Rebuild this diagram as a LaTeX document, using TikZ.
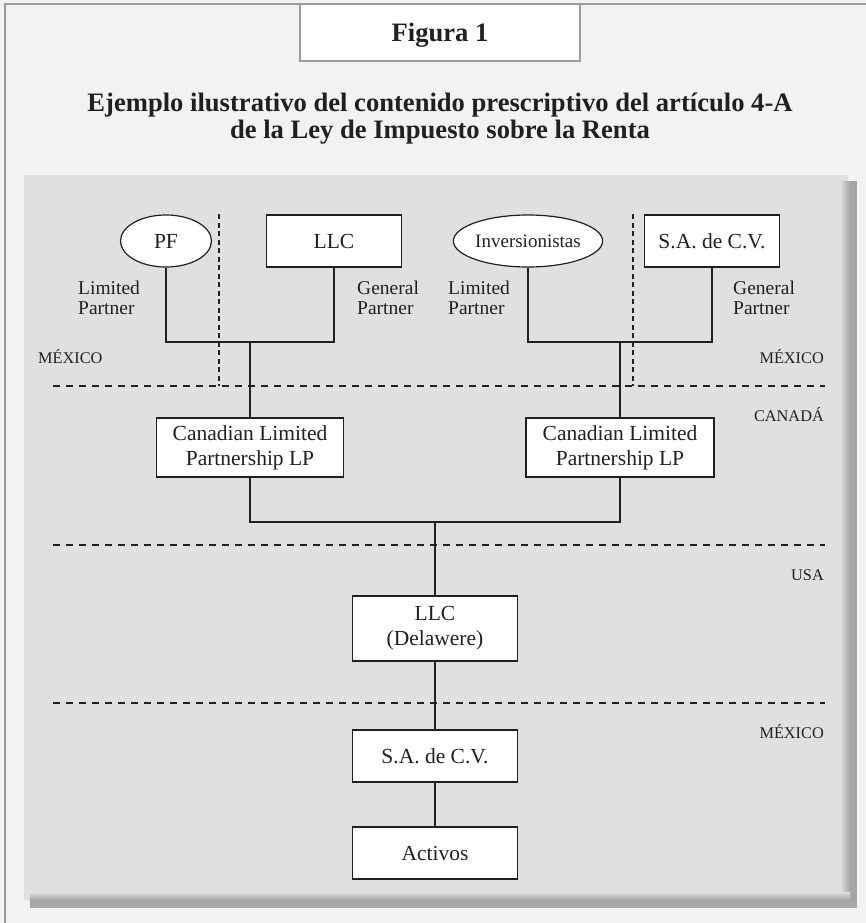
\documentclass[tikz,border=0pt]{standalone}
\usepackage{fontspec}
\setmainfont{Liberation Serif}
\usetikzlibrary{shapes.geometric}
\definecolor{bgout}{HTML}{F1F2F4}
\definecolor{panelc}{HTML}{DFE0E2}
\definecolor{framec}{HTML}{9B9B9B}
\definecolor{inkc}{HTML}{231F20}
\definecolor{shadowc}{HTML}{A6A6A8}
\begin{document}
\begin{tikzpicture}[x=1pt,y=-1pt,
  box/.style={draw=inkc, line width=1.2pt, fill=white, rectangle, inner sep=0pt, text=inkc, font=\fontsize{21.5}{25}\selectfont, align=center},
  oval/.style={draw=inkc, line width=1.2pt, fill=white, ellipse, inner sep=0pt, text=inkc},
  conn/.style={draw=inkc, line width=1.4pt},
  hdash/.style={draw=inkc, line width=1.1pt, dash pattern=on 7pt off 6pt},
  vdash/.style={draw=inkc, line width=1.1pt, dash pattern=on 5pt off 3.5pt},
  lbl/.style={text=inkc, font=\fontsize{19.5}{20}\selectfont, inner sep=0pt},
  country/.style={text=inkc, font=\fontsize{16.3}{18}\selectfont, inner sep=0pt},
  ttl/.style={text=inkc, font=\fontsize{26.6}{27}\selectfont\bfseries, inner sep=0pt}
]
\useasboundingbox (0,0) rectangle (866,923);
\fill[bgout] (0,0) rectangle (866,923);
\draw[framec, line width=1.5pt] (5,923) -- (5,4) -- (866,4);
% figure label
\node[draw=framec, line width=1.2pt, fill=white, minimum width=280pt, minimum height=57pt, inner sep=0pt,
      text height=19pt, text depth=0pt, text=inkc, font=\fontsize{26.6}{27}\selectfont\bfseries] (fig) at (440,32.5) {Figura 1};
\node[ttl, anchor=base] (t1) at (440,112) {Ejemplo ilustrativo del contenido prescriptivo del artículo 4-A};
\node[ttl, anchor=base] (t2) at (440,139) {de la Ley de Impuesto sobre la Renta};
% panel with shadow
\fill[panelc] (24,175) rectangle (848,900);
\shade[left color=panelc, right color=shadowc] (840,181) rectangle (850,900);
\fill[shadowc] (850,181) rectangle (857,908);
\shade[top color=panelc, bottom color=shadowc] (30,892) rectangle (850,900);
\fill[shadowc] (30,900) rectangle (857,908);
% dashed borders
\coordinate (dl1) at (53,386); \coordinate (dr1) at (825,386);
\coordinate (dl2) at (53,545); \coordinate (dr2) at (825,545);
\coordinate (dl3) at (53,703); \coordinate (dr3) at (825,703);
\coordinate (vt1) at (219,214); \coordinate (vb1) at (219,386);
\coordinate (vt2) at (633,214); \coordinate (vb2) at (633,386);
\draw[hdash] (dl1) -- (dr1);
\draw[hdash] (dl2) -- (dr2);
\draw[hdash] (dl3) -- (dr3);
\draw[vdash] (vt1) -- (vb1);
\draw[vdash] (vt2) -- (vb2);
% nodes
\node[oval, minimum width=91pt, minimum height=52pt, font=\fontsize{21.5}{25}\selectfont] (pf) at (166,241) {PF};
\node[box, minimum width=135pt, minimum height=52pt] (llc) at (334,241) {LLC};
\node[oval, minimum width=121pt, minimum height=52pt, font=\fontsize{19}{22}\selectfont] (inv) at (528,241) {Inversionistas};
\node[box, minimum width=135pt, minimum height=52pt] (sa1) at (712,241) {S.A. de C.V.};
\node[box, minimum width=187pt, minimum height=59pt] (clp1) at (250,447.5) {Canadian Limited\\Partnership LP};
\node[box, minimum width=188pt, minimum height=59pt] (clp2) at (620,447.5) {Canadian Limited\\Partnership LP};
\node[box, minimum width=165pt, minimum height=65pt] (llcd) at (435,628.5) {LLC\\(Delawere)};
\node[box, minimum width=165pt, minimum height=52pt] (sa2) at (435,756) {S.A. de C.V.};
\node[box, minimum width=165pt, minimum height=52pt] (act) at (435,853) {Activos};
% connectors
\coordinate (j1) at (250,342);
\coordinate (j2) at (620,342);
\coordinate (j3) at (435,522);
\draw[conn] (pf.south) |- (j1) -| (llc.south);
\draw[conn] (j1) -- (clp1.north);
\draw[conn] (inv.south) |- (j2) -| (sa1.south);
\draw[conn] (j2) -- (clp2.north);
\draw[conn] (clp1.south) |- (j3) -| (clp2.south);
\draw[conn] (j3) -- (llcd.north);
\draw[conn] (llcd.south) -- (sa2.north);
\draw[conn] (sa2.south) -- (act.north);
% partner labels
\node[lbl, anchor=base west] (l1a) at (78,294) {Limited};
\node[lbl, anchor=base west] (l1b) at (78,314) {Partner};
\node[lbl, anchor=base west] (g1a) at (357,294) {General};
\node[lbl, anchor=base west] (g1b) at (357,314) {Partner};
\node[lbl, anchor=base west] (l2a) at (448,294) {Limited};
\node[lbl, anchor=base west] (l2b) at (448,314) {Partner};
\node[lbl, anchor=base west] (g2a) at (733,294) {General};
\node[lbl, anchor=base west] (g2b) at (733,314) {Partner};
% country labels
\node[country, anchor=base west] (mx1) at (38,363) {MÉXICO};
\node[country, anchor=base east] (mx2) at (824,363) {MÉXICO};
\node[country, anchor=base east] (ca) at (824,421) {CANADÁ};
\node[country, anchor=base east] (us) at (824,580) {USA};
\node[country, anchor=base east] (mx3) at (824,738) {MÉXICO};
\end{tikzpicture}
\end{document}
